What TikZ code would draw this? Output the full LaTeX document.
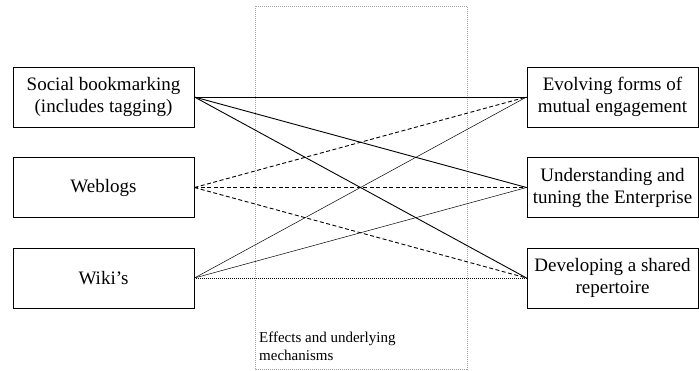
\documentclass[tikz,border=0pt]{standalone}
\usepackage{fontspec}
\setmainfont{Liberation Serif}
\begin{document}
\begin{tikzpicture}[x=1pt,y=-1pt,
  box/.style={draw, line width=0.9pt, minimum width=181pt, minimum height=60pt, inner sep=0pt, align=center, font=\fontsize{19}{22}\selectfont},
  rbox/.style={draw, line width=0.9pt, minimum width=171pt, minimum height=60pt, inner sep=0pt, align=center, font=\fontsize{19}{22}\selectfont},
  solidl/.style={line width=0.9pt},
  dashl/.style={line width=0.9pt, dash pattern=on 4pt off 2.5pt},
  thinl/.style={line width=0.5pt},
  dotl/.style={line width=0.9pt, dash pattern=on 1pt off 1pt}]
\useasboundingbox (0,0) rectangle (699,370);
\draw[gray!70, line width=0.6pt, dash pattern=on 1pt off 1pt] (255,6) rectangle (467,369);
\node[anchor=north west, align=left, inner sep=0pt, font=\fontsize{15}{18}\selectfont] (lbl) at (259,332) {Effects and underlying\\mechanisms};
\node[box] (sb) at (103.5,97) {Social bookmarking\\(includes tagging)};
\node[box] (wb) at (103.5,187.5) {Weblogs};
\node[box] (wk) at (103.5,278) {Wiki’s};
\node[rbox] (ev) at (612.5,97) {Evolving forms of\\mutual engagement};
\node[rbox] (un) at (612.5,187.5) {Understanding and\\tuning the Enterprise};
\node[rbox] (dv) at (612.5,278) {Developing a shared\\repertoire};
\draw[solidl] (sb.east) -- (ev.west);
\draw[solidl] (sb.east) -- (un.west);
\draw[solidl] (sb.east) -- (dv.west);
\draw[dashl] (wb.east) -- (ev.west);
\draw[dashl] (wb.east) -- (un.west);
\draw[dashl] (wb.east) -- (dv.west);
\draw[thinl] (wk.east) -- (ev.west);
\draw[thinl] (wk.east) -- (un.west);
\draw[dotl] (wk.east) -- (dv.west);
\end{tikzpicture}
\end{document}
